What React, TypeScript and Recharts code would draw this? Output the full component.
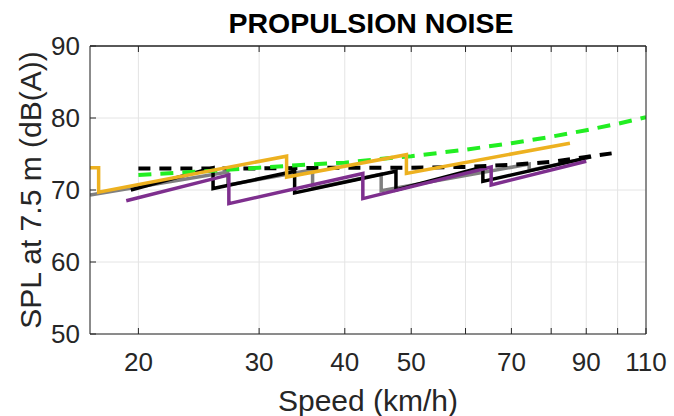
import { LineChart, Line, XAxis, YAxis, CartesianGrid, Label, ReferenceLine } from "recharts";

// axis ticks
const speedTicks = [20, 30, 40, 50, 60, 70, 80, 90, 100, 110];
const labelledSpeeds = [20, 30, 40, 50, 70, 90, 110];
const splTicks = [50, 60, 70, 80, 90];

// solid lines (gear steps: repeated speed = vertical drop)
const blackSpeed = [19.5, 25.7, 25.7, 33.8, 33.8, 47.5, 47.5, 63.6, 63.6, 91.5];
const blackSpl = [70.0, 73.1, 70.2, 72.6, 69.6, 72.6, 70.0, 73.2, 71.2, 74.6];

const graySpeed = [17, 27.0, 27.0, 35.9, 35.9, 45.2, 45.2, 74.3, 74.3, 88];
const graySpl = [69.3, 72.5, 70.7, 72.8, 70.2, 72.2, 69.9, 73.6, 72.7, 74.2];

const purpleSpeed = [19.2, 27.1, 27.1, 42.5, 42.5, 65.4, 65.4, 90];
const purpleSpl = [68.5, 72.1, 68.1, 72.3, 68.8, 73.2, 70.7, 74.0];

const orangeSpeed = [17, 17.5, 17.5, 32.9, 32.9, 49.2, 49.2, 85.2];
const orangeSpl = [73.1, 73.1, 69.7, 74.7, 71.8, 74.9, 72.3, 76.5];

// dashed lines
const blackDashSpeed = [20, 30, 40, 50, 60, 70, 80, 90, 100];
const blackDashSpl = [73.0, 73.0, 73.1, 73.1, 73.2, 73.5, 73.9, 74.6, 75.2];

const greenDashSpeed = [20, 25, 30, 35, 40, 45, 50, 60, 70, 80, 90, 100, 110];
const greenDashSpl = [72.1, 72.6, 73.1, 73.5, 73.8, 74.3, 74.7, 75.6, 76.5, 77.4, 78.3, 79.2, 80.1];

const toPoints = (speed: number[], spl: number[]) =>
  speed.map((s, i) => ({ speed: s, spl: spl[i] }));

const FONT = '"Liberation Sans", Arial, Helvetica, sans-serif';
const INK = "#262626";

const speedLabel = (v: number) => (labelledSpeeds.includes(v) ? String(v) : "");

const XTitle = (props: any) => {
  const vb = props.viewBox || { x: 90, y: 334, width: 557, height: 82 };
  return (
    <text
      x={vb.x + vb.width / 2}
      y={411}
      textAnchor="middle"
      fontFamily={FONT}
      fontSize={30}
      fill={INK}
    >
      Speed (km/h)
    </text>
  );
};

const YTitle = (props: any) => {
  const vb = props.viewBox || { x: 0, y: 46, width: 90, height: 288 };
  const cy = vb.y + vb.height / 2;
  return (
    <text
      x={41}
      y={cy}
      transform={`rotate(-90 41 ${cy})`}
      textAnchor="middle"
      fontFamily={FONT}
      fontSize={30}
      fill={INK}
    >
      SPL at 7.5 m (dB(A))
    </text>
  );
};

const tickStyle = { fill: INK, fontSize: 26, fontFamily: FONT };

export default function App() {
  return (
    <div style={{ position: "absolute", left: 0, top: 0, width: 674, height: 416, background: "#fff" }}>
      <LineChart width={674} height={416} margin={{ top: 45, right: 27, bottom: 0, left: 0 }}>
        <CartesianGrid stroke="#e4e4e4" strokeWidth={1} />
        <XAxis
          dataKey="speed"
          type="number"
          scale="log"
          domain={[17, 110]}
          allowDataOverflow
          ticks={speedTicks}
          interval={0}
          tickFormatter={speedLabel}
          height={82}
          tickSize={-6}
          tickMargin={25}
          stroke={INK}
          tick={tickStyle}
        >
          <Label content={XTitle} />
        </XAxis>
        <XAxis
          xAxisId="top"
          orientation="top"
          dataKey="speed"
          type="number"
          scale="log"
          domain={[17, 110]}
          allowDataOverflow
          ticks={speedTicks}
          interval={0}
          height={1}
          tickSize={-6}
          tickFormatter={() => ""}
          stroke={INK}
        />
        <YAxis
          dataKey="spl"
          type="number"
          domain={[50, 90]}
          allowDataOverflow
          ticks={splTicks}
          interval={0}
          width={90}
          tickSize={-6}
          tickMargin={16}
          stroke={INK}
          tick={tickStyle}
        >
          <Label content={YTitle} />
        </YAxis>
        <YAxis
          yAxisId="right"
          orientation="right"
          type="number"
          domain={[50, 90]}
          ticks={splTicks}
          interval={0}
          width={1}
          tickSize={-6}
          tickFormatter={() => ""}
          stroke={INK}
        />
        <ReferenceLine y={90} stroke={INK} strokeWidth={1} />
        <Line data={toPoints(graySpeed, graySpl)} dataKey="spl" stroke="#808080" strokeWidth={3.5} dot={false} isAnimationActive={false} />
        <Line data={toPoints(blackSpeed, blackSpl)} dataKey="spl" stroke="#000000" strokeWidth={3.5} dot={false} isAnimationActive={false} />
        <Line data={toPoints(purpleSpeed, purpleSpl)} dataKey="spl" stroke="#7E2F8E" strokeWidth={3.5} dot={false} isAnimationActive={false} />
        <Line data={toPoints(blackDashSpeed, blackDashSpl)} dataKey="spl" stroke="#000000" strokeWidth={4} strokeDasharray="12 9" dot={false} isAnimationActive={false} />
        <Line data={toPoints(greenDashSpeed, greenDashSpl)} dataKey="spl" stroke="#22ee22" strokeWidth={4} strokeDasharray="13 9" dot={false} isAnimationActive={false} />
        <Line data={toPoints(orangeSpeed, orangeSpl)} dataKey="spl" stroke="#EDB120" strokeWidth={3.5} dot={false} isAnimationActive={false} />
      </LineChart>
      <svg width={674} height={44} style={{ position: "absolute", left: 0, top: 0 }}>
        <text
          x={371}
          y={33}
          textAnchor="middle"
          fontFamily={FONT}
          fontWeight="bold"
          fontSize={28.5}
          fill="#000"
        >
          PROPULSION NOISE
        </text>
      </svg>
    </div>
  );
}
